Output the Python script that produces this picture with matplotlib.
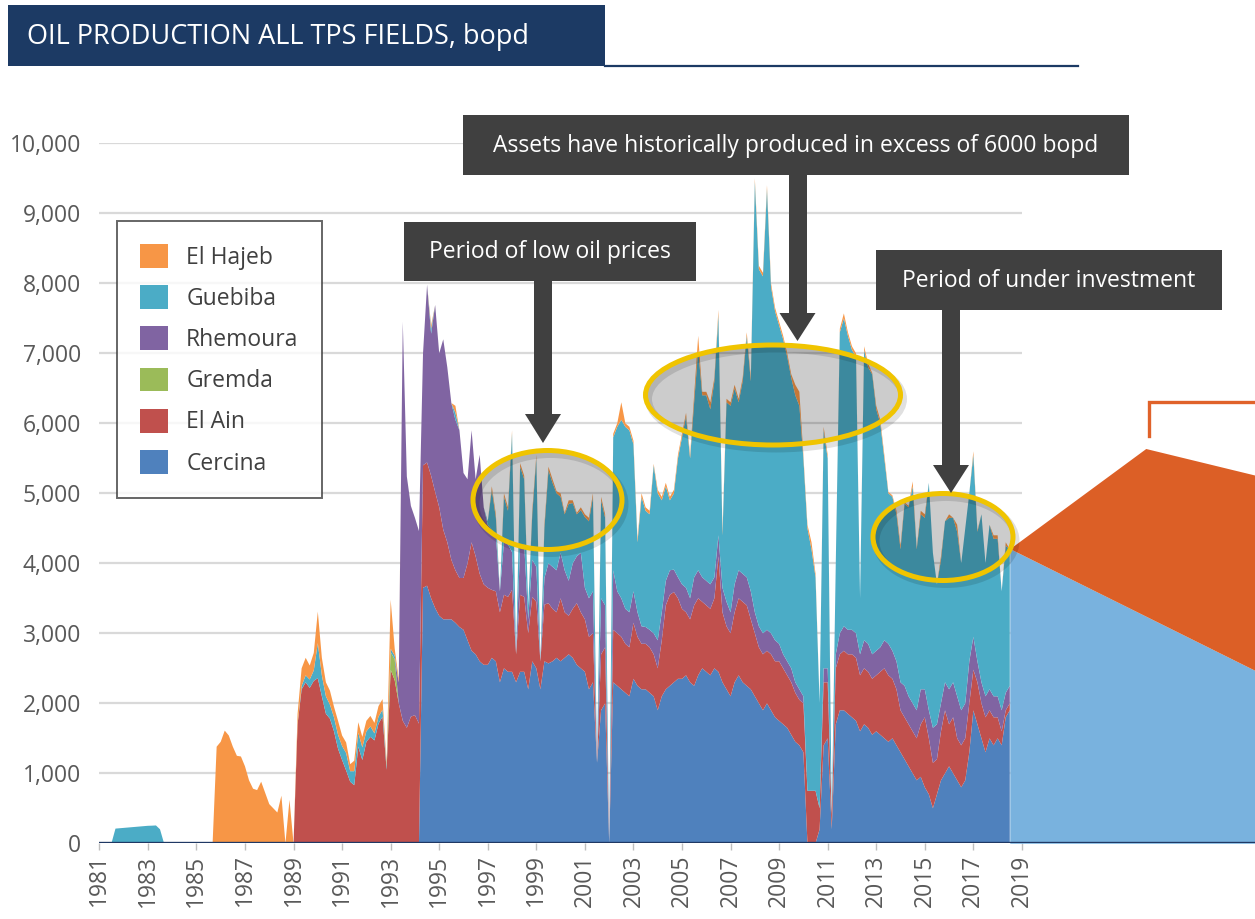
import numpy as np
import matplotlib
matplotlib.use("Agg")
import matplotlib.pyplot as plt
from matplotlib.patches import Patch, Rectangle, Ellipse, Polygon

plt.rcParams['font.family'] = ['Open Sans', 'DejaVu Sans']

# bi-monthly production, bopd, 1981.0 .. 2018.5 (one row per year, 6 values)
years = 1981 + np.arange(226) / 6.0

cercina = [
    0, 0, 0, 0, 0, 0,  0, 0, 0, 0, 0, 0,  0, 0, 0, 0, 0, 0,  0, 0, 0, 0, 0, 0,  # 81-84
    0, 0, 0, 0, 0, 0,  0, 0, 0, 0, 0, 0,  0, 0, 0, 0, 0, 0,  0, 0, 0, 0, 0, 0,  # 85-88
    0, 0, 0, 0, 0, 0,  0, 0, 0, 0, 0, 0,  0, 0, 0, 0, 0, 0,  0, 0, 0, 0, 0, 0,  # 89-92
    0, 0, 0, 0, 0, 0,                                                            # 93
    0, 0, 3650, 3680, 3500, 3360,
    3250, 3200, 3200, 3200, 3150, 3090,
    3050, 2900, 2750, 2700, 2600, 2550,
    2550, 2650, 2600, 2300, 2500, 2450,
    2450, 2300, 2450, 2450, 2200, 2600,
    2500, 2200, 2600, 2570, 2600, 2650,
    2600, 2650, 2700, 2650, 2550, 2500,
    2450, 2200, 2300, 1150, 1900, 2000,
    0, 2300, 2250, 2200, 2150, 2100,
    2350, 2250, 2200, 2200, 2150, 2100,
    1900, 2100, 2200, 2250, 2300, 2350,
    2350, 2400, 2300, 2250, 2400, 2500,
    2450, 2400, 2500, 2450, 2300, 2200,
    2100, 2300, 2400, 2300, 2250, 2200,
    2100, 2000, 1900, 2000, 1900, 1800,
    1750, 1700, 1650, 1550, 1450, 1400,
    1300, 0, 0, 0, 200, 1400,
    1500, 200, 1700, 1900, 1900, 1850,
    1800, 1750, 1600, 1700, 1650, 1550,
    1600, 1550, 1500, 1450, 1500, 1400,
    1300, 1200, 1100, 1000, 900, 950,
    800, 700, 500, 700, 900, 1000,
    1100, 1000, 900, 800, 900, 1300,
    1900, 1700, 1500, 1300, 1500, 1400,
    1500, 1400, 1800, 1900,
]

el_ain = [
    0, 0, 0, 0, 0, 0,  0, 0, 0, 0, 0, 0,  0, 0, 0, 0, 0, 0,  0, 0, 0, 0, 0, 0,  # 81-84
    0, 0, 0, 0, 0, 0,  0, 0, 0, 0, 0, 0,  0, 0, 0, 0, 0, 0,  0, 0, 0, 0, 0, 0,  # 85-88
    0, 1700, 2200, 2300, 2220, 2320,
    2360, 2100, 1850, 1780, 1600, 1350,
    1190, 1040, 880, 830, 1380, 1190,
    1450, 1520, 1470, 1710, 1810, 1050,
    2480, 2330, 2000, 1750, 1650, 1810,
    1830, 1710, 1750, 1760, 1750, 1660,
    1550, 1280, 1100, 850, 750, 700,
    740, 1100, 1550, 1400, 1250, 1150,
    1100, 970, 1000, 1000, 1050, 1070,
    1170, 400, 1100, 1070, 800, 920,
    950, 400, 810, 860, 750, 650,
    900, 650, 550, 700, 880, 800,
    750, 750, 700, 0, 800, 800,
    0, 750, 750, 750, 700, 700,
    800, 700, 650, 650, 650, 600,
    600, 800, 1200, 1300, 1290, 1150,
    1000, 900, 900, 1150, 1100, 950,
    950, 950, 1000, 1650, 1000, 900,
    900, 1000, 1100, 1150, 1150, 1000,
    900, 800, 800, 750, 800, 800,
    850, 800, 750, 750, 700, 650,
    700, 750, 750, 750, 300, 900,
    800, 200, 800, 800, 850, 850,
    900, 900, 800, 800, 800, 800,
    800, 900, 1000, 950, 850, 800,
    600, 600, 600, 600, 600, 750,
    1000, 800, 650, 500, 700, 900,
    600, 800, 600, 600, 600, 700,
    580, 600, 500, 500, 400, 400,
    300, 200, 100, 100,
]

gremda = [
    0, 0, 0, 0, 0, 0,  0, 0, 0, 0, 0, 0,  0, 0, 0, 0, 0, 0,  0, 0, 0, 0, 0, 0,  # 81-84
    0, 0, 0, 0, 0, 0,  0, 0, 0, 0, 0, 0,  0, 0, 0, 0, 0, 0,  0, 0, 0, 0, 0, 0,  # 85-88
    0, 0, 0, 0, 0, 0,  0, 0, 0, 0, 0, 0,  0, 0, 0, 0, 0, 0,  0, 0, 0, 0, 0, 0,  # 89-92
    250, 300, 0, 0, 0, 0,                                                        # 93
    0, 0, 0, 0, 0, 0,  0, 0, 0, 0, 0, 0,  0, 0, 0, 0, 0, 0,  0, 0, 0, 0, 0, 0,  # 94-97
    0, 0, 0, 0, 0, 0,  0, 0, 0, 0, 0, 0,  0, 0, 0, 0, 0, 0,  0, 0, 0, 0, 0, 0,  # 98-01
    0, 0, 0, 0, 0, 0,  0, 0, 0, 0, 0, 0,  0, 0, 0, 0, 0, 0,  0, 0, 0, 0, 0, 0,  # 02-05
    0, 0, 0, 0, 0, 0,  0, 0, 0, 0, 0, 0,  0, 0, 0, 0, 0, 0,  0, 0, 0, 0, 0, 0,  # 06-09
    0, 0, 0, 0, 0, 0,  0, 0, 0, 0, 0, 0,  0, 0, 0, 0, 0, 0,  0, 0, 0, 0, 0, 0,  # 10-13
    0, 0, 0, 0, 0, 0,  0, 0, 0, 0, 0, 0,  0, 0, 0, 0, 0, 0,  0, 0, 0, 0, 0, 0,  # 14-17
    0, 0, 0, 0,
]

rhemoura = [
    0, 0, 0, 0, 0, 0,  0, 0, 0, 0, 0, 0,  0, 0, 0, 0, 0, 0,  0, 0, 0, 0, 0, 0,  # 81-84
    0, 0, 0, 0, 0, 0,  0, 0, 0, 0, 0, 0,  0, 0, 0, 0, 0, 0,  0, 0, 0, 0, 0, 0,  # 85-88
    0, 0, 0, 0, 0, 0,  0, 0, 0, 0, 0, 0,  0, 0, 0, 0, 0, 0,  0, 0, 0, 0, 0, 0,  # 89-92
    0, 0, 300, 5700, 3590, 3010,
    2820, 2750, 1600, 2540, 2030, 2670,
    2200, 2720, 2500, 2240, 2150, 2110,
    1500, 1200, 1600, 1100, 1700, 1100,
    900, 860, 800, 300, 750, 750,
    540, 0, 700, 750, 200, 530,
    500, 0, 380, 570, 600, 600,
    650, 600, 500, 650, 670, 850,
    450, 550, 600, 0, 800, 600,
    0, 850, 600, 550, 500, 500,
    450, 350, 250, 240, 250, 300,
    400, 400, 350, 350, 320, 300,
    350, 350, 300, 400, 400, 350,
    350, 350, 300, 300, 350, 350,
    300, 400, 400, 400, 400, 400,
    300, 300, 300, 300, 300, 300,
    250, 200, 200, 200, 150, 150,
    100, 0, 0, 0, 0, 200,
    200, 0, 200, 300, 350, 350,
    350, 350, 300, 400, 400, 350,
    350, 350, 400, 450, 400, 400,
    400, 450, 400, 400, 400, 500,
    400, 400, 500, 500, 400, 400,
    500, 500, 600, 500, 500, 600,
    470, 300, 300, 300, 300, 300,
    300, 300, 250, 250,
]

guebiba = [
    0, 0, 0, 0, 210, 215,
    220, 225, 230, 235, 240, 245,
    250, 252, 255, 200, 0, 0,
    0, 0, 0, 0, 0, 0,  0, 0, 0, 0, 0, 0,  0, 0, 0, 0, 0, 0,  # 84-86
    0, 0, 0, 0, 0, 0,  0, 0, 0, 0, 0, 0,                     # 87-88
    0, 0, 50, 100, 120, 150,
    500, 300, 250, 200, 200, 200,
    200, 250, 150, 200, 200, 180,
    150, 150, 100, 100, 100, 50,
    50, 50, 0, 0, 0, 0,
    0, 0, 0, 0, 70, 0,
    0, 0, 0, 0, 100, 0,
    0, 0, 0, 0, 0, 0,
    50, 570, 250, 0, 650, 480,
    1700, 0, 1130, 930, 200, 650,
    1550, 0, 710, 1330, 1200, 1100,
    800, 800, 1100, 860, 600, 610,
    1010, 1100, 1350, 0, 1400, 1250,
    0, 1900, 2350, 2550, 2600, 2600,
    2100, 1000, 1850, 1660, 1650, 2400,
    2100, 1600, 1350, 1000, 1090, 1700,
    2100, 2450, 2000, 2500, 3150, 2600,
    2650, 2500, 2800, 3150, 750, 2850,
    2950, 2800, 2400, 2750, 3450, 3000,
    6150, 5100, 5100, 6300, 4950, 4700,
    4550, 4500, 4350, 4150, 4100, 4050,
    3400, 3750, 3450, 3050, 1500, 3400,
    3000, 0, 1300, 4300, 4400, 4200,
    4000, 3950, 800, 4150, 3950, 4000,
    3450, 3200, 2600, 2150, 2200, 2100,
    1900, 2600, 2700, 3100, 2300, 2500,
    2450, 3250, 2500, 2000, 2050, 2300,
    2450, 2350, 2350, 2100, 2500, 2400,
    2600, 1850, 2400, 1900, 2350, 2250,
    2250, 1700, 2100, 1950,
]

el_hajeb = [
    0, 0, 0, 0, 0, 0,  0, 0, 0, 0, 0, 0,  0, 0, 0, 0, 0, 0,  0, 0, 0, 0, 0, 0,  # 81-84
    0, 0, 0, 0, 0, 1380,
    1450, 1610, 1540, 1380, 1250, 1240,
    1100, 900, 780, 760, 880, 720,
    560, 500, 440, 680, 0, 620,
    0, 150, 250, 250, 200, 250,
    450, 250, 200, 200, 150, 200,
    150, 150, 100, 150, 150, 150,
    150, 150, 150, 150, 150, 50,
    700, 100, 50, 0, 0, 0,
    0, 0, 0, 0, 50, 0,
    0, 0, 0, 0, 100, 0,
    0, 0, 0, 0, 0, 0,
    0, 50, 50, 0, 50, 50,
    40, 0, 50, 50, 0, 50,
    50, 0, 50, 50, 50, 30,
    50, 20, 50, 40, 20, 40,
    40, 50, 50, 0, 50, 50,
    0, 50, 50, 250, 50, 50,
    50, 50, 50, 50, 50, 20,
    50, 50, 50, 50, 50, 50,
    50, 50, 50, 100, 200, 50,
    50, 100, 50, 70, 50, 50,
    50, 50, 50, 50, 50, 50,
    50, 50, 50, 50, 50, 50,
    50, 50, 50, 50, 150, 200,
    50, 50, 100, 50, 0, 50,
    50, 0, 0, 50, 70, 50,
    50, 50, 0, 50, 50, 20,
    50, 50, 50, 20, 20, 50,
    50, 20, 20, 70, 20, 50,
    50, 0, 0, 0, 50, 0,
    50, 0, 100, 0, 0, 0,
    50, 20, 0, 0, 0, 50,
    50, 0, 50, 0,
]

# outlook wedges beyond the history
forecast_years = [2018.5, 2028.6]
forecast_base = [4210, 2470]
upside_years = [2018.5, 2024.1, 2028.6]
upside_top = [4210, 5640, 5260]

fields = ['Cercina', 'El Ain', 'Gremda', 'Rhemoura', 'Guebiba', 'El Hajeb']
colors = ['#4f81bd', '#c0504d', '#9bbb59', '#8064a2', '#4bacc6', '#f79646']
series = [cercina, el_ain, gremda, rhemoura, guebiba, el_hajeb]

W, H = 1255, 919
fig = plt.figure(figsize=(W / 100, H / 100), dpi=100)
ax = fig.add_axes([99.3 / W, (H - 843.3) / H, (W - 99.3) / W, 700 / H])

ax.hlines(np.arange(1000, 10001, 1000), 1981, 2019, color='#d9d9d9', lw=1.6, zorder=0)
ax.stackplot(years, *series, colors=colors, linewidth=0, zorder=2)

ax.fill_between(forecast_years, 0, forecast_base, color='#79b2de', lw=0, zorder=2)
low_edge = np.interp(upside_years, forecast_years, forecast_base)
ax.fill_between(upside_years, low_edge, upside_top, color='#dc5f26', lw=0, zorder=2)

ax.axhline(0, color='#1f3864', lw=2.4, zorder=3)

ax.set_xlim(1981, 2028.6)
ax.set_ylim(0, 10000)
for s in ax.spines.values():
    s.set_visible(False)
ax.set_yticks(np.arange(0, 10001, 1000))
ax.set_yticklabels([f'{v:,}' for v in range(0, 10001, 1000)])
ax.set_xticks(np.arange(1981, 2020, 2))
ax.set_xticklabels([str(y) for y in range(1981, 2020, 2)], rotation=90)
ax.tick_params(axis='y', length=0, pad=13, labelsize=16.5, labelcolor='#595959')
ax.tick_params(axis='x', length=5, width=1, color='#bfbfbf', pad=3,
               labelsize=16.5, labelcolor='#595959')

handles = [Patch(facecolor=c, edgecolor='none') for c in colors[::-1]]
leg = ax.legend(handles, fields[::-1], loc='upper left',
                bbox_to_anchor=(117 / W, 1 - 221 / H), bbox_transform=fig.transFigure,
                borderaxespad=0, frameon=True, fancybox=False, fontsize=16.5,
                handlelength=1.22, handleheight=1.22, handletextpad=0.8,
                labelspacing=0.68, borderpad=1.0, labelcolor='#404040')
leg.get_frame().set_edgecolor('#404040')
leg.get_frame().set_linewidth(1.4)
leg.set_zorder(5)

# overlay in pixel coordinates for title and call-outs
ov = fig.add_axes([0, 0, 1, 1])
ov.set_xlim(0, W)
ov.set_ylim(H, 0)
ov.axis('off')

ov.add_patch(Rectangle((8, 5), 597, 61, color='#1c3a64', lw=0))
ov.text(27, 37, 'OIL PRODUCTION ALL TPS FIELDS, bopd', color='white',
        fontsize=19.5, va='center', ha='left')
ov.plot([605, 1078], [65.5, 65.5], color='#1c3a64', lw=1.6)

dark = '#404040'
gold = '#f0c400'
for cx, cy, w, h in [(547.5, 500, 149, 99), (773, 395, 255, 100), (943, 537, 140, 87)]:
    ov.add_patch(Ellipse((cx + 3, cy + 4), w, h, facecolor='none',
                         edgecolor='#000000', lw=5, alpha=0.12))
    ov.add_patch(Ellipse((cx, cy), w, h, facecolor='black', alpha=0.2, lw=0))
    ov.add_patch(Ellipse((cx, cy), w, h, facecolor='none', edgecolor=gold, lw=3.6))

boxes = [
    (404, 222, 696, 281, 'Period of low oil prices'),
    (463, 115, 1129, 175, 'Assets have historically produced in excess of 6000 bopd'),
    (876, 250, 1222, 310, 'Period of under investment'),
]
for x0, y0, x1, y1, txt in boxes:
    ov.add_patch(Rectangle((x0, y0), x1 - x0, y1 - y0, color=dark, lw=0))
    ov.text((x0 + x1) / 2, (y0 + y1) / 2 + 1, txt, color='white', fontsize=16.5,
            ha='center', va='center')

arrows = [(543, 281, 414, 443), (797.5, 175, 313, 341), (951, 310, 465, 493)]
for xc, ytop, yhead, ytip in arrows:
    ov.add_patch(Rectangle((xc - 9, ytop), 18, yhead - ytop, color=dark, lw=0))
    ov.add_patch(Polygon([(xc - 18, yhead), (xc + 18, yhead), (xc, ytip)],
                         closed=True, color=dark, lw=0))

ov.plot([1148.5, 1148.5, 1256], [436, 402, 402], color='#e0622a', lw=2.4,
        solid_joinstyle='miter')

fig.savefig('out.png', dpi=100)
